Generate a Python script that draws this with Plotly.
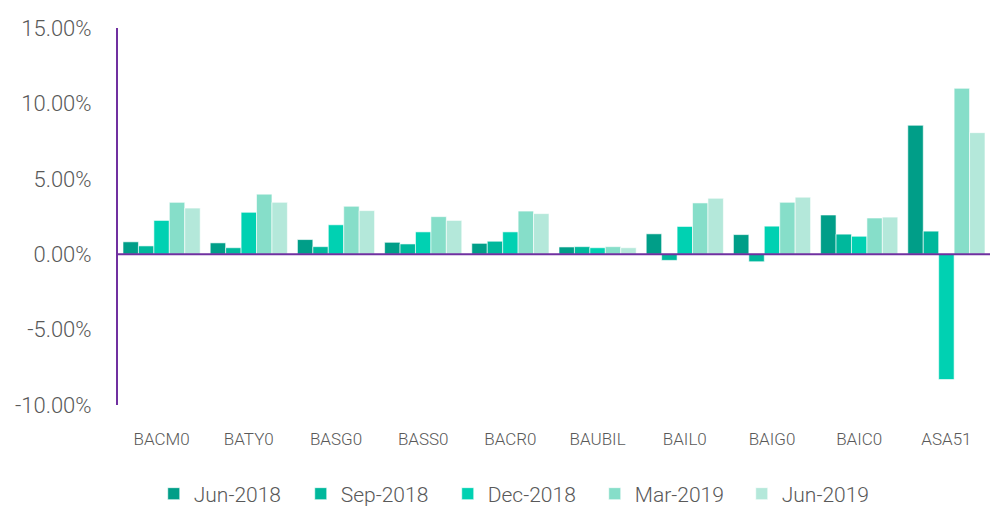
import plotly.graph_objects as go

categories = ["BACM0", "BATY0", "BASG0", "BASS0", "BACR0", "BAUBIL", "BAIL0", "BAIG0", "BAIC0", "ASA51"]
series_names = ["Jun-2018", "Sep-2018", "Dec-2018", "Mar-2019", "Jun-2019"]
jun_2018 = [0.82, 0.75, 0.97, 0.79, 0.72, 0.48, 1.35, 1.30, 2.60, 8.55]
sep_2018 = [0.55, 0.43, 0.50, 0.68, 0.86, 0.50, -0.41, -0.50, 1.33, 1.53]
dec_2018 = [2.24, 2.78, 1.95, 1.48, 1.48, 0.43, 1.84, 1.86, 1.19, -8.31]
mar_2019 = [3.44, 3.98, 3.18, 2.49, 2.86, 0.50, 3.40, 3.44, 2.40, 11.00]
jun_2019 = [3.06, 3.44, 2.89, 2.24, 2.69, 0.43, 3.71, 3.78, 2.46, 8.06]
colors = ["#009E88", "#00B89C", "#00D1B2", "#86DEC9", "#B4E8DA"]
y_tick_vals = [-10, -5, 0, 5, 10, 15]
y_tick_text = ["-10.00%", "-5.00%", "0.00%", "5.00%", "10.00%", "15.00%"]

all_series = [jun_2018, sep_2018, dec_2018, mar_2019, jun_2019]

fig = go.Figure()
for name, vals, col in zip(series_names, all_series, colors):
    fig.add_trace(go.Bar(
        x=categories, y=vals, name=name,
        marker=dict(color=col, line=dict(color="rgba(255,255,255,0.6)", width=1)),
    ))

axis_purple = "#7030A0"
text_grey = "#595959"
font_family = "Roboto, Noto Sans, sans-serif"
fig.update_layout(
    width=990, height=506,
    margin=dict(l=118, r=0, t=28, b=101),
    paper_bgcolor="white", plot_bgcolor="white",
    barmode="group", bargap=0.115, bargroupgap=0,
    font=dict(family=font_family, color=text_grey, weight=300),
    showlegend=True,
    legend=dict(orientation="h", xref="container", yref="container",
                x=0.1553, xanchor="left", y=0.0237, yanchor="middle",
                font=dict(size=21, color=text_grey, weight=300), itemwidth=30,
                entrywidth=102, entrywidthmode="pixels", traceorder="normal"),
    xaxis=dict(showgrid=False, showline=False, ticks="", automargin=False,
               tickfont=dict(size=17, color=text_grey, weight=300),
               ticklabelstandoff=22),
    yaxis=dict(range=[-10, 15], tickvals=y_tick_vals, ticktext=y_tick_text, automargin=False,
               showgrid=False, zeroline=False,
               showline=True, linecolor=axis_purple, linewidth=2,
               ticks="", tickfont=dict(size=22, color=text_grey, weight=300), ticklabelstandoff=20),
    shapes=[dict(type="line", xref="paper", x0=0, x1=1, yref="y", y0=0, y1=0,
                 line=dict(color=axis_purple, width=2), layer="above")],
)

fig.write_html("out.html", config={"displayModeBar": False},
               post_script="document.body.style.margin='0';")
